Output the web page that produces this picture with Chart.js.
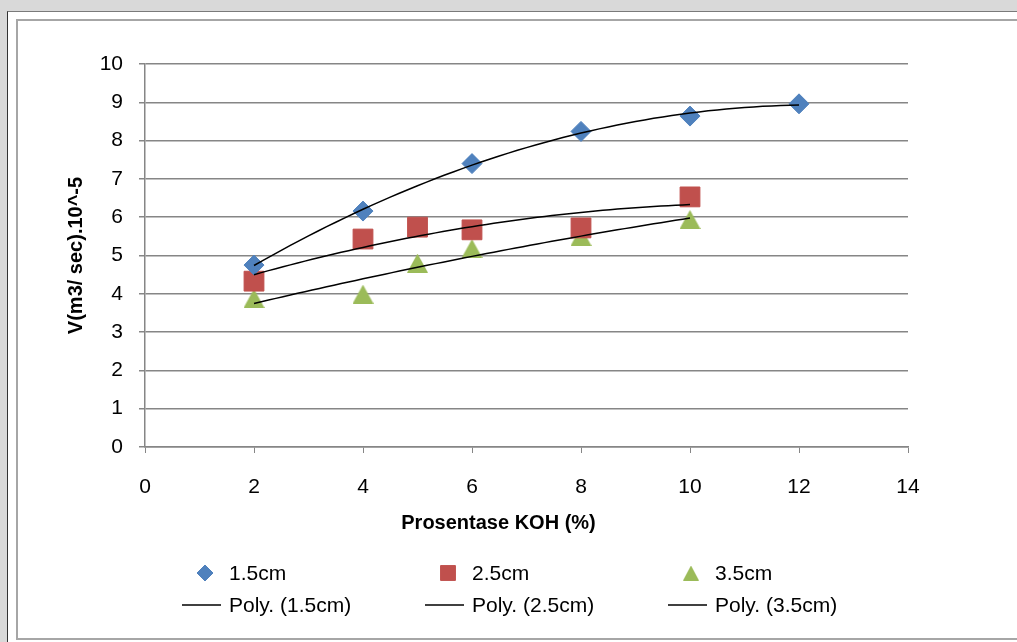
<!DOCTYPE html>
<html>
<head>
<meta charset="utf-8">
<title>Prosentase KOH</title>
<script src="https://cdn.jsdelivr.net/npm/chart.js@4.4.0/dist/chart.umd.min.js"></script>
<style>
  html, body { margin: 0; padding: 0; }
  body {
    width: 1017px; height: 642px; overflow: hidden; position: relative;
    background: #d9d9d9;
    font-family: "Liberation Sans", Arial, sans-serif;
  }
  #lembar {
    position: absolute; left: 7px; top: 11px; right: 0; bottom: 0;
    background: #fff; border-left: 1px solid #333; border-top: 1px solid #7a7a7a;
  }
  #bingkai {
    position: absolute; left: 16px; top: 19px; width: 1010px; height: 617px;
    border: 2px solid #a6a6a6; background: #fff;
  }
  #grafik { position: absolute; left: 18px; top: 21px; }
</style>
</head>
<body>
<div id="lembar"></div>
<div id="bingkai"></div>
<canvas id="grafik" width="999" height="617"></canvas>
<script>
// data hasil pengukuran debit (x = % KOH, y = V dalam m3/sec x 10^-5)
const kadarKOH15 = [2, 4, 6, 8, 10, 12];
const debit15 = [4.75, 6.16, 7.40, 8.24, 8.64, 8.96];
const kadarKOH25 = [2, 4, 5, 6, 8, 10];
const debit25 = [4.33, 5.43, 5.74, 5.67, 5.72, 6.53];
const kadarKOH35 = [2, 4, 5, 6, 8, 10];
const debit35 = [3.88, 3.99, 4.80, 5.18, 5.50, 5.94];

const labelSeri = ['1.5cm', '2.5cm', '3.5cm'];
const warnaSeri = ['#4f81bd', '#c0504d', '#9bbb59'];

const tickX = [0, 2, 4, 6, 8, 10, 12, 14];
const tickY = [0, 1, 2, 3, 4, 5, 6, 7, 8, 9, 10];

const fontTeks = '"Liberation Sans", Arial, sans-serif';

// segitiga gaya Excel: titik tengah = tengah kotak, bukan titik berat
function segitiga(w, h, warna) {
  const c = document.createElement('canvas');
  c.width = w; c.height = h;
  const g = c.getContext('2d');
  g.fillStyle = warna;
  g.beginPath();
  g.moveTo(0, h);
  g.lineTo(w / 2, 0);
  g.lineTo(w, h);
  g.closePath();
  g.fill();
  return c;
}

const bentukSeri = ['rectRot', 'rect', segitiga(21, 19, warnaSeri[2])];
const ukuranSeri = [10, 14, 10];
const bentukLegenda = ['rectRot', 'rect', segitiga(16, 15, warnaSeri[2])];
const ukuranLegenda = [8, 10.5, 8];

function pasangan(xs, ys) {
  return xs.map((x, i) => ({ x: x, y: ys[i] }));
}

// regresi polinomial orde 2 (least squares), sama seperti trendline "Poly."
function fitPoly2(xs, ys) {
  let s0 = xs.length, s1 = 0, s2 = 0, s3 = 0, s4 = 0, t0 = 0, t1 = 0, t2 = 0;
  xs.forEach((x, i) => {
    const y = ys[i];
    s1 += x; s2 += x * x; s3 += x * x * x; s4 += x * x * x * x;
    t0 += y; t1 += x * y; t2 += x * x * y;
  });
  const A = [[s0, s1, s2, t0], [s1, s2, s3, t1], [s2, s3, s4, t2]];
  for (let k = 0; k < 3; k++) {
    for (let r = k + 1; r < 3; r++) {
      const f = A[r][k] / A[k][k];
      for (let c = k; c < 4; c++) A[r][c] -= f * A[k][c];
    }
  }
  const k = [0, 0, 0];
  for (let r = 2; r >= 0; r--) {
    let s = A[r][3];
    for (let c = r + 1; c < 3; c++) s -= A[r][c] * k[c];
    k[r] = s / A[r][r];
  }
  return k;
}

function garisTren(xs, ys) {
  const k = fitPoly2(xs, ys);
  const x0 = xs[0], x1 = xs[xs.length - 1];
  const hasil = [];
  const n = 60;
  for (let i = 0; i <= n; i++) {
    const x = x0 + (x1 - x0) * i / n;
    hasil.push({ x: x, y: k[0] + k[1] * x + k[2] * x * x });
  }
  return hasil;
}

const semuaX = [kadarKOH15, kadarKOH25, kadarKOH35];
const semuaY = [debit15, debit25, debit35];

const datasets = [];
labelSeri.forEach((lbl, i) => {
  datasets.push({
    label: lbl,
    data: pasangan(semuaX[i], semuaY[i]),
    pointStyle: bentukSeri[i],
    pointRadius: ukuranSeri[i],
    backgroundColor: warnaSeri[i],
    borderColor: warnaSeri[i],
    borderWidth: 1,
    showLine: false,
    order: 2
  });
});
labelSeri.forEach((lbl, i) => {
  datasets.push({
    label: 'Poly. (' + lbl + ')',
    data: garisTren(semuaX[i], semuaY[i]),
    showLine: true,
    borderColor: '#000',
    borderWidth: 1.5,
    pointRadius: 0,
    tension: 0,
    order: 1
  });
});

// legenda tiga kolom di bawah grafik + judul sumbu x
const legendaBawah = {
  id: 'legendaBawah',
  afterDraw(chart) {
    const ctx = chart.ctx;
    const area = chart.chartArea;
    ctx.save();
    ctx.fillStyle = '#000';
    ctx.textBaseline = 'middle';

    ctx.font = 'bold 20px ' + fontTeks;
    ctx.textAlign = 'center';
    ctx.fillText('Prosentase KOH (%)', (area.left + area.right) / 2 - 28, 502);

    ctx.font = '21px ' + fontTeks;
    ctx.textAlign = 'left';
    const kolom = 243;
    const x0 = 164;
    const baris1 = 552, baris2 = 584;
    labelSeri.forEach((lbl, i) => {
      const cx = x0 + i * kolom;
      ctx.fillStyle = warnaSeri[i];
      ctx.strokeStyle = warnaSeri[i];
      ctx.lineWidth = 1;
      Chart.helpers.drawPoint(ctx, {
        pointStyle: bentukLegenda[i], radius: ukuranLegenda[i], rotation: 0, borderWidth: 1
      }, cx + 23, baris1);
      ctx.fillStyle = '#000';
      ctx.fillText(lbl, cx + 47, baris1 + 1);

      ctx.strokeStyle = '#000';
      ctx.lineWidth = 1.5;
      ctx.beginPath();
      ctx.moveTo(cx, baris2);
      ctx.lineTo(cx + 39, baris2);
      ctx.stroke();
      ctx.fillText('Poly. (' + lbl + ')', cx + 47, baris2 + 1);
    });
    ctx.restore();
  }
};

new Chart(document.getElementById('grafik'), {
  type: 'scatter',
  data: { datasets: datasets },
  options: {
    responsive: false,
    animation: false,
    events: [],
    layout: { padding: { left: 0, top: 43, right: 109, bottom: 0 } },
    plugins: { legend: { display: false }, tooltip: { enabled: false } },
    scales: {
      x: {
        type: 'linear',
        min: 0, max: 14,
        afterFit(scale) { scale.height = 191; },
        afterBuildTicks(scale) { scale.ticks = tickX.map(v => ({ value: v })); },
        ticks: { color: '#000', padding: 22, font: { family: fontTeks, size: 21 } },
        grid: { drawOnChartArea: false, drawTicks: true, tickLength: 6, color: '#868686', lineWidth: 1 },
        border: { display: true, color: '#868686', width: 1.5 }
      },
      y: {
        type: 'linear',
        min: 0, max: 10,
        afterFit(scale) { scale.width = 127; },
        afterBuildTicks(scale) { scale.ticks = tickY.map(v => ({ value: v })); },
        ticks: { color: '#000', padding: 16, font: { family: fontTeks, size: 21 } },
        grid: { color: '#868686', lineWidth: 1.5, drawTicks: true, tickLength: 6 },
        border: { display: true, color: '#868686', width: 1.5 },
        title: {
          display: true,
          text: 'V(m3/ sec).10^-5',
          color: '#000',
          padding: { top: 46, bottom: 0 },
          font: { family: fontTeks, size: 20, weight: 'bold' }
        }
      }
    }
  },
  plugins: [legendaBawah]
});
</script>
</body>
</html>
